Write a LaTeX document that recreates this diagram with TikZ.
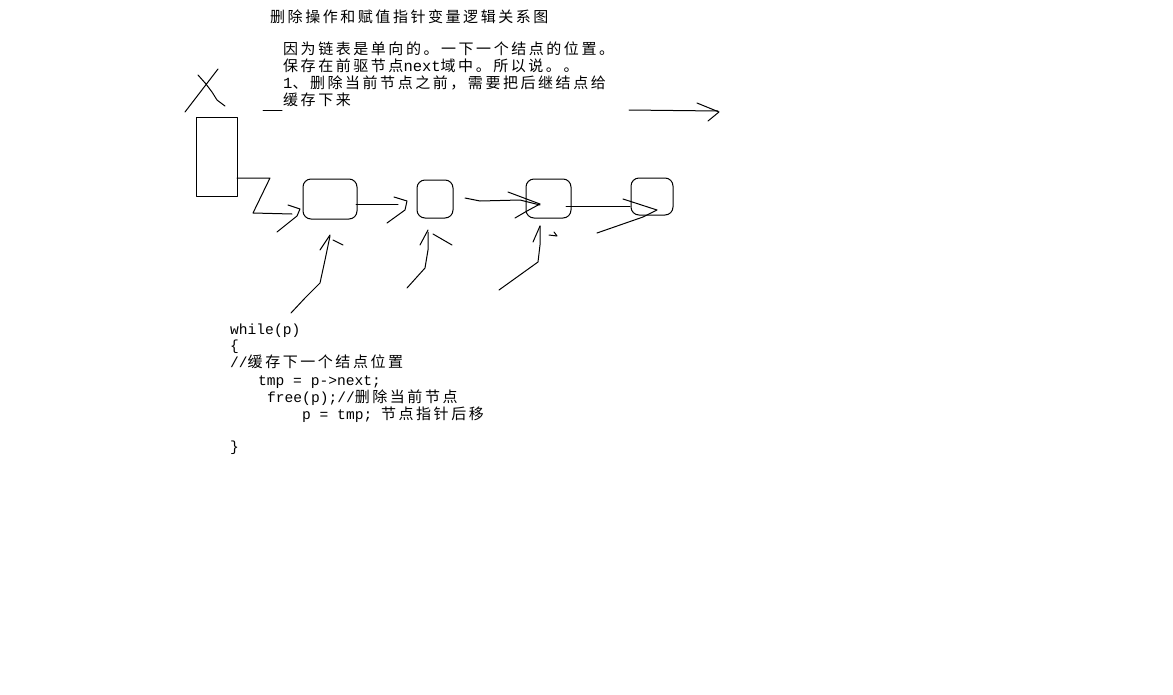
\documentclass[tikz,border=0pt]{standalone}
\usepackage{fontspec}
\setmonofont{Liberation Mono}
\newfontfamily\cjk[LetterSpace=17]{Noto Sans CJK SC}
\newcommand\cjkcode[1]{{\cjk\fontsize{15}{17}\selectfont #1}}
\newcommand\lat[1]{{\ttfamily\fontsize{15.5}{17}\selectfont #1}}
\begin{document}
\begin{tikzpicture}[x=1pt,y=-1pt,
  pen/.style={line width=1pt,line cap=round,line join=round},
  txt/.style={anchor=base west,inner sep=0pt,font=\cjk\fontsize{15}{17}\selectfont},
  code/.style={anchor=base west,inner sep=0pt,font=\ttfamily\fontsize{14.6}{17}\selectfont},
  box/.style={pen,rounded corners=8pt}]
\useasboundingbox[fill=white] (0,0) rectangle (1173,694);
% texts
\node[txt] (title) at (270,22.5) {删除操作和赋值指针变量逻辑关系图};
\node[txt] (l1) at (283,54) {因为链表是单向的。一下一个结点的位置。};
\node[txt] (l2) at (283,71) {保存在前驱节点\lat{next}域中。所以说。。};
\node[txt] (l3) at (283,88.5) {\lat{1}、删除当前节点之前，需要把后继结点给};
\node[txt] (l4) at (283,105.5) {缓存下来};
% code
\node[code] (c1) at (230,334) {while(p)};
\node[code] (c2) at (230,350) {\{};
\node[code] (c3) at (230,367) {//\cjkcode{缓存下一个结点位置}};
\node[code] (c4) at (258,385) {tmp = p->next;};
\node[code] (c5) at (267,402) {free(p);//\cjkcode{删除当前节点}};
\node[code] (c6) at (302,419) {p = tmp; \cjkcode{节点指针后移}};
\node[code] (c7) at (230,451) {\}};
% head pointer (crossed out)
\draw[pen] (185,112) -- (218,69);
\draw[pen] (198,75) -- (206,84) -- (212,92) -- (217,100) -- (225,106);
\draw[pen] (263,110) -- (282,110);
\draw[pen] (196,117) rectangle (237,196);
% boxes
\draw[box] (303,179) rectangle (357,219);
\draw[box] (417,180) rectangle (453,218);
\draw[box] (526,179) rectangle (571,218);
\draw[box] (631,178) rectangle (673,215);
% links
\draw[pen] (237,178) -- (270,178) -- (253,213) -- (292,214);
\draw[pen] (288,205) -- (300,209) -- (297,216) -- (277,232);
\draw[pen] (356,204) -- (398,204);
\draw[pen] (394,197) -- (407,201) -- (405,210) -- (387,223);
\draw[pen] (465,198) -- (480,201) -- (520,200) -- (540,205);
\draw[pen] (508,192) -- (540,204) -- (527,211) -- (515,218);
\draw[pen] (566,206) -- (630,206);
\draw[pen] (623,199) -- (657,210) -- (643,217) -- (597,233);
% top arrow
\draw[pen] (629,110) -- (718,111);
\draw[pen] (697,103) -- (719,112) -- (708,121);
% pointers from below
\draw[pen] (291,313) -- (305,298) -- (320,283) -- (325,260) -- (330,236);
\draw[pen] (320,250) -- (330,235);
\draw[pen] (333,240) -- (343,245);
\draw[pen] (407,288) -- (425,268) -- (428,250) -- (428,232);
\draw[pen] (420,245) -- (428,230);
\draw[pen] (433,234) -- (452,245);
\draw[pen] (499,290) -- (538,262) -- (540,245) -- (540,226);
\draw[pen] (533,242) -- (540,226);
\draw[pen] (549,235) -- (557,236) -- (554,232);
\end{tikzpicture}
\end{document}
